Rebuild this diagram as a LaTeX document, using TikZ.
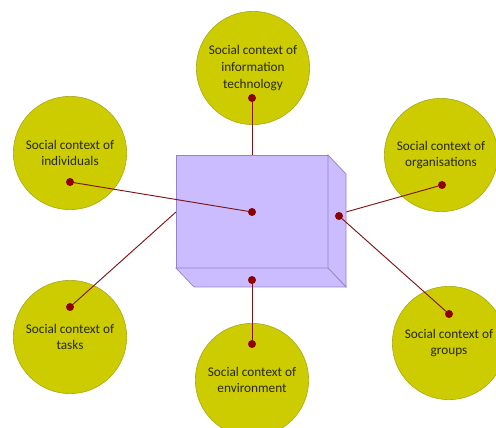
\documentclass[tikz,border=0pt]{standalone}
\usepackage{fontspec}
\setmainfont{Carlito}
\usetikzlibrary{shapes}
\definecolor{olivefill}{RGB}{204,204,0}
\definecolor{olivedraw}{RGB}{168,168,20}
\definecolor{boxfill}{RGB}{203,188,255}
\definecolor{boxdraw}{RGB}{150,130,200}
\definecolor{linkred}{RGB}{128,20,20}
\definecolor{dotred}{RGB}{140,0,0}
\definecolor{labeltext}{RGB}{40,40,10}
\begin{document}
\begin{tikzpicture}[
  ctx/.style={shape=circle,fill=olivefill,draw=olivedraw,line width=0.5pt,minimum size=3.4cm,inner sep=0pt,align=center,text=labeltext,font=\fontsize{11.3}{14.4}\selectfont},
  dot/.style={shape=circle,fill=dotred,inner sep=0pt,minimum size=0.24cm},
  link/.style={draw=linkred,line width=0.8pt},
  face/.style={fill=boxfill,draw=boxdraw,line width=0.6pt,line join=miter}]
\useasboundingbox (0,0) rectangle (14.88,12.84);
\clip (0,0) rectangle (14.88,12.84);

% context circles
\node[ctx] (it) at (7.59,10.8) {Social context of\\information\\technology};
\node[ctx] (indiv) at (2.1,8.25) {Social context of\\individuals};
\node[ctx] (orgs) at (13.23,8.19) {Social context of\\organisations};
\node[ctx] (tasks) at (2.1,2.73) {Social context of\\tasks};
\node[ctx] (env) at (7.56,1.44) {Social context of\\environment};
\node[ctx] (groups) at (13.47,2.55) {Social context of\\groups};

\node[dot] (itdot) at (7.56,9.9) {};
\node[dot] (indivdot) at (2.1,7.38) {};
\node[dot] (orgsdot) at (13.26,7.29) {};
\node[dot] (tasksdot) at (2.1,3.63) {};
\node[dot] (envdot) at (7.56,2.52) {};
\node[dot] (groupsdot) at (13.47,3.42) {};

% ends behind the box
\coordinate (boxtop) at (7.56,8.19);
\coordinate (boxleft) at (5.28,6.48);
\coordinate (boxright) at (10.38,6.48);

\path [link] (itdot) edge (boxtop);
\path [link] (tasksdot) edge (boxleft);
\path [link] (orgsdot) edge (boxright);

% box
\path [face] (5.28,8.19) rectangle (9.84,4.8);
\path [face] (9.84,8.19) -- (10.38,7.62) -- (10.38,4.23) -- (9.84,4.8) -- cycle;
\path [face] (5.28,4.8) -- (9.84,4.8) -- (10.38,4.23) -- (5.82,4.23) -- cycle;

\node[dot] (centredot) at (7.56,6.48) {};
\node[dot] (sidedot) at (10.17,6.36) {};
\node[dot] (bottomdot) at (7.56,4.44) {};

\path [link] (indivdot) edge (centredot);
\path [link] (sidedot) edge (groupsdot);
\path [link] (bottomdot) edge (envdot);
\end{tikzpicture}
\end{document}
